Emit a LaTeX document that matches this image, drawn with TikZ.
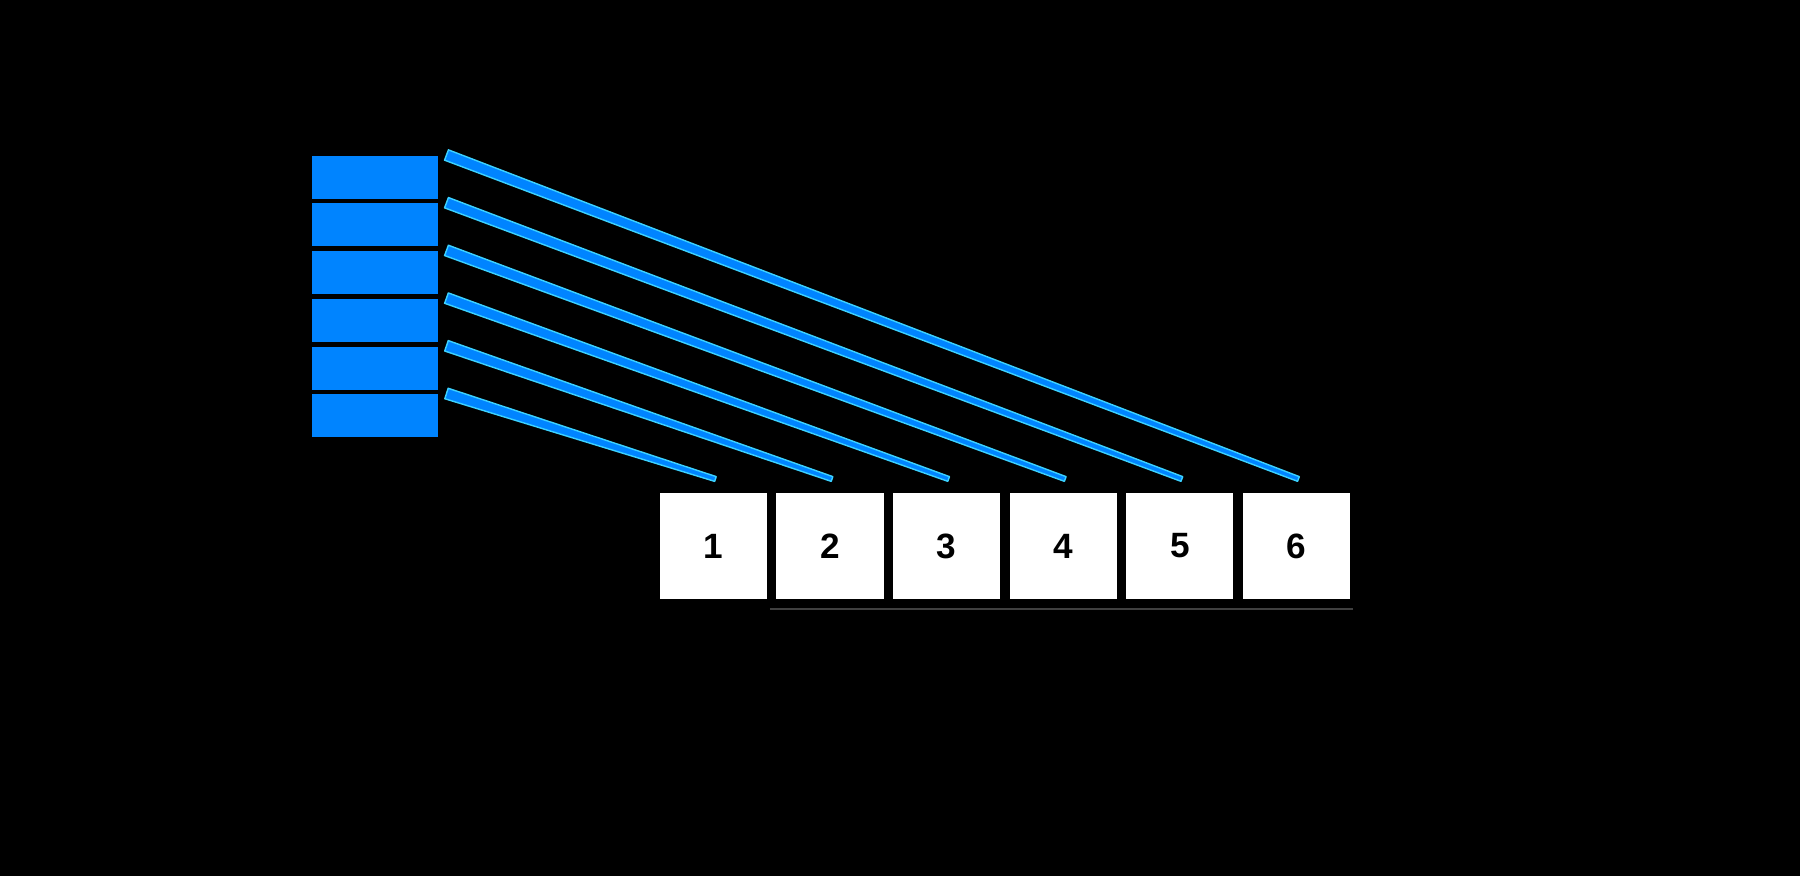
\documentclass[tikz,border=0pt]{standalone}
\usepackage{fontspec}
\setmainfont{Liberation Sans}
\usetikzlibrary{calc}
\definecolor{slotblue}{RGB}{0,132,255}
\definecolor{edgecyan}{RGB}{60,210,255}

\begin{document}
\begin{tikzpicture}[x=0.01cm, y=-0.01cm,
    slot/.style={fill=slotblue, draw=none, inner sep=0pt, minimum width=1.26cm, minimum height=0.43cm, anchor=north west},
    cell/.style={fill=white, draw=black, line width=0.8pt, inner sep=0pt, minimum width=1.10cm, minimum height=1.09cm, anchor=north west, font=\fontsize{10}{12}\selectfont\bfseries},
    wire/.style={fill=slotblue, draw=edgecyan, line width=0.4pt, line join=round}]
\fill[black] (0,0) rectangle (1800,876);
\useasboundingbox (0,0) rectangle (1800,876);

%% the six blue slots on the left
\foreach \j in {1,...,6}
    \node[slot] (src\j) at (311,{155+47.7*(\j-1)}) {};

%% the numbered cells
\foreach \k in {1,...,6}
    \node[cell] (cell\k) at ({657+116.6*(\k-1)},490) {\k};

%% the faint line under the cells
\draw[black!75!white, line width=0.6pt] ([yshift=-0.07cm]cell1.south east) -- ([yshift=-0.07cm]cell6.south east);

%% top slot goes to the last cell, bottom slot to the first
\foreach \j in {1,...,6} {
    \pgfmathtruncatemacro{\k}{7-\j}
    \coordinate (from\j) at ([xshift=0.08cm]src\j.north east);
    \coordinate (to\j) at ([xshift=0.02cm, yshift=0.11cm]cell\k.north);
    \filldraw[wire] ($(from\j)!0.055cm!90:(to\j)$) -- ($(to\j)!0.025cm!-90:(from\j)$)
        -- ($(to\j)!0.025cm!90:(from\j)$) -- ($(from\j)!0.055cm!-90:(to\j)$) -- cycle;
}
\end{tikzpicture}
\end{document}
